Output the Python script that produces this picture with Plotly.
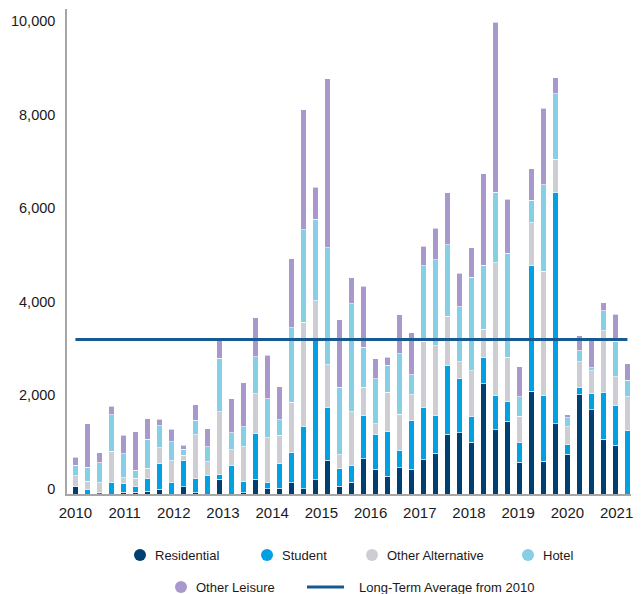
import plotly.graph_objects as go

# Quarterly investment volumes, 2010 Q1 onwards (one bar per quarter)
years = [str(y) for y in range(2010, 2022)]

residential = [150, 0, 0, 0, 40, 40, 60, 105, 0, 155, 25, 0,
               310, 0, 25, 310, 110, 125, 240, 110, 300, 720, 165, 255,
               750, 525, 380, 560, 530, 735, 870, 1280, 1305, 1105, 2360, 1375,
               1555, 680, 2190, 700, 1505, 850, 2125, 1805, 1165, 1045, 0]
student = [0, 95, 25, 255, 190, 130, 270, 540, 255, 555, 305, 400,
           105, 610, 250, 980, 145, 520, 640, 1340, 2985, 1135, 370, 360,
           930, 755, 955, 370, 1030, 1120, 810, 1465, 1160, 555, 555, 725,
           420, 410, 2690, 1400, 4940, 200, 155, 340, 1010, 845, 1355]
other_alternative = [240, 180, 220, 660, 120, 165, 215, 340, 460, 115, 940, 285,
                     1340, 340, 735, 855, 945, 605, 1080, 2220, 845, 910, 305, 1140,
                     605, 225, 840, 770, 560, 1410, 1490, 1055, 355, 975, 600, 2835,
                     945, 570, 910, 2655, 710, 390, 540, 490, 1315, 610, 725]
hotel = [220, 300, 425, 780, 515, 170, 620, 475, 400, 130, 305, 320,
         1150, 355, 425, 785, 835, 340, 1595, 1980, 1735, 2490, 1440, 2305,
         850, 960, 570, 1300, 430, 1615, 1835, 1520, 1175, 2000, 1375, 1515,
         2225, 415, 490, 1850, 1390, 190, 235, 65, 425, 760, 355]
other_leisure = [170, 925, 215, 180, 385, 820, 440, 140, 265, 85, 335, 390,
                 380, 735, 940, 830, 930, 700, 1465, 2560, 685, 3620, 1445, 555,
                 1300, 420, 180, 830, 890, 410, 670, 1110, 725, 620, 1950, 3630,
                 1155, 645, 670, 1630, 350, 65, 325, 585, 170, 585, 350]
long_term_average = 3300

series = [
    ("Residential", residential, "#003F72"),
    ("Student", student, "#00A0E3"),
    ("Other Alternative", other_alternative, "#CDCED3"),
    ("Hotel", hotel, "#86CFE4"),
    ("Other Leisure", other_leisure, "#A898CC"),
]
avg_color = "#175A91"
avg_label = "Long-Term Average from 2010"

quarters = list(range(len(residential)))

fig = go.Figure()
for name, values, color in series:
    fig.add_trace(go.Bar(
        x=quarters, y=values, name=name, showlegend=False,
        marker=dict(color=color, line=dict(color="white", width=0.6)),
        width=0.46,
    ))

fig.add_trace(go.Scatter(
    x=[quarters[0], quarters[-1]], y=[long_term_average, long_term_average],
    mode="lines", name=avg_label, showlegend=False,
    line=dict(color=avg_color, width=3),
))

# Figure geometry (pixels) used to place the hand-built legend
W, H = 643, 594
M_L, M_R, M_T, M_B = 67, 12, 9, 100
plot_w = W - M_L - M_R
plot_h = H - M_T - M_B


def px_x(px):
    return (px - M_L) / plot_w


def px_y(py):
    return (H - M_B - py) / plot_h


legend_font = dict(family="Liberation Sans, Arial", size=13, color="#1a1a1a")

row1_y, row2_y = 555, 587
legend_items = [
    (series[0], 140, row1_y),
    (series[1], 267, row1_y),
    (series[2], 372, row1_y),
    (series[3], 528, row1_y),
    (series[4], 181, row2_y),
]
shapes = []
annotations = []
for (name, _, color), mx, my in legend_items:
    shapes.append(dict(
        type="circle", xref="paper", yref="paper",
        xsizemode="pixel", ysizemode="pixel",
        xanchor=px_x(mx), yanchor=px_y(my),
        x0=-6, x1=6, y0=-6, y1=6,
        fillcolor=color, line=dict(width=0),
    ))
    annotations.append(dict(
        text=name, xref="paper", yref="paper",
        x=px_x(mx + 13), y=px_y(my), xanchor="left", yanchor="middle",
        showarrow=False, font=legend_font,
    ))

shapes.append(dict(
    type="line", xref="paper", yref="paper",
    x0=px_x(307), x1=px_x(344), y0=px_y(row2_y), y1=px_y(row2_y),
    line=dict(color=avg_color, width=3),
))
annotations.append(dict(
    text=avg_label, xref="paper", yref="paper",
    x=px_x(357), y=px_y(row2_y), xanchor="left", yanchor="middle",
    showarrow=False, font=legend_font,
))

fig.update_layout(
    barmode="stack",
    width=W, height=H,
    margin=dict(l=M_L, r=M_R, t=M_T, b=M_B),
    plot_bgcolor="white", paper_bgcolor="white",
    showlegend=False,
    shapes=shapes,
    annotations=annotations,
    font=dict(family="Liberation Sans, Arial", color="#1a1a1a"),
)

fig.update_xaxes(
    range=[-0.7, 46.3],
    tickmode="array",
    tickvals=[i * 4.1 for i in range(len(years))],
    ticktext=years,
    tickfont=dict(size=15),
    showgrid=False, zeroline=False,
    showline=True, linecolor="#A6A6A6", linewidth=1.5,
    ticks="", ticklabelstandoff=4,
)
fig.update_yaxes(
    range=[0, 10360],
    tickvals=[0, 2000, 4000, 6000, 8000, 10000],
    tickformat=",d",
    tickfont=dict(size=14.5),
    showgrid=False, zeroline=False,
    showline=True, linecolor="#A6A6A6", linewidth=1.5,
    ticks="", ticklabelstandoff=7, ticklabelshift=-5,
)

fig.write_html("out.html")
